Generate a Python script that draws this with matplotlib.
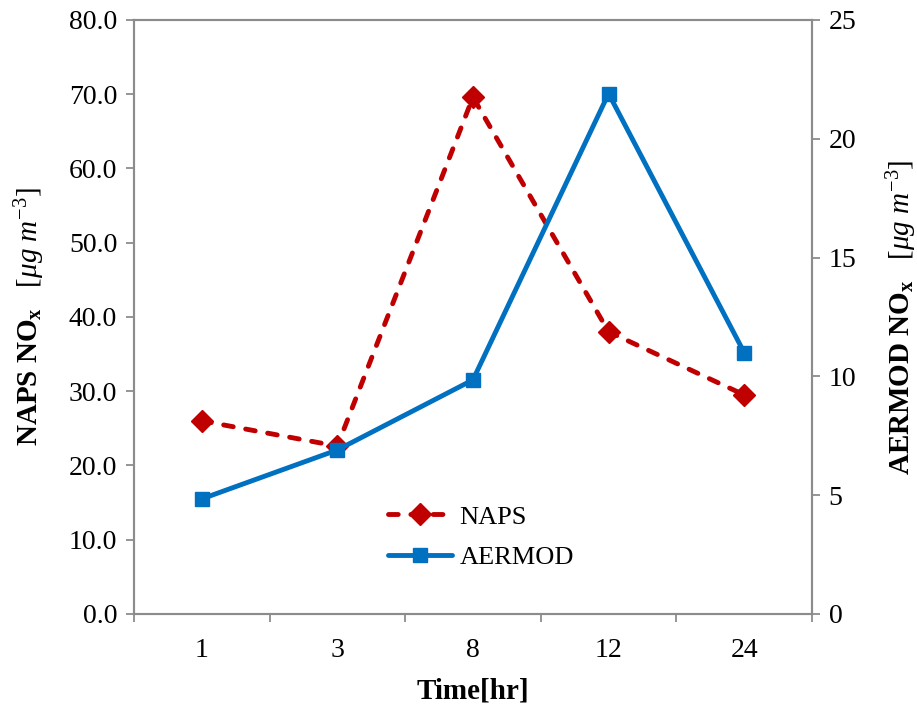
import matplotlib
matplotlib.use("Agg")
import matplotlib.pyplot as plt
from matplotlib.ticker import FixedLocator, NullFormatter, FormatStrFormatter

plt.rcParams["font.family"] = ["Liberation Serif", "DejaVu Serif"]
plt.rcParams["mathtext.fontset"] = "custom"
plt.rcParams["mathtext.rm"] = "Liberation Serif"
plt.rcParams["mathtext.it"] = "Liberation Serif:italic"
plt.rcParams["mathtext.bf"] = "Liberation Serif:bold"

# Sampling times and NOx concentrations
times = ["1", "3", "8", "12", "24"]
naps_nox = [26.0, 22.6, 69.6, 38.0, 29.5]        # µg m-3, left axis
aermod_nox = [4.84, 6.9, 9.85, 21.9, 11.0]       # µg m-3, right axis

left_ticks = [0, 10, 20, 30, 40, 50, 60, 70, 80]
right_ticks = [0, 5, 10, 15, 20, 25]

red = "#C00000"
blue = "#0070C0"
spine_gray = "#8c8c8c"

fig = plt.figure(figsize=(9.17, 7.13), dpi=100)
ax = fig.add_axes([0.146, 0.139, 0.7395, 0.833])
ax2 = ax.twinx()

x = list(range(len(times)))

l1, = ax.plot(x, naps_nox, color=red, lw=3.5, ls=(0, (2.0, 2.6)),
              dash_capstyle="round",
              marker="D", markersize=11, markerfacecolor=red,
              markeredgecolor=red, label="NAPS")
l2, = ax2.plot(x, aermod_nox, color=blue, lw=3.5, ls="-",
               solid_capstyle="round",
               marker="s", markersize=10.5, markerfacecolor=blue,
               markeredgecolor=blue, label="AERMOD")

ax.set_xlim(-0.5, len(times) - 0.5)
ax.set_ylim(0, 80)
ax2.set_ylim(0, 25)

# Category boundaries carry tick marks, labels sit at the category centres
ax.xaxis.set_major_locator(FixedLocator([i - 0.5 for i in range(len(times) + 1)]))
ax.xaxis.set_major_formatter(NullFormatter())
ax.xaxis.set_minor_locator(FixedLocator(x))
ax.set_xticklabels(times, minor=True)
ax.tick_params(axis="x", which="major", direction="out", length=6,
               width=1.3, color=spine_gray)
ax.tick_params(axis="x", which="minor", length=0, pad=17, labelsize=20)

ax.set_yticks(left_ticks)
ax.yaxis.set_major_formatter(FormatStrFormatter("%.1f"))
ax.tick_params(axis="y", direction="out", length=6, width=1.3,
               color=spine_gray, labelsize=20, pad=6)
ax2.set_yticks(right_ticks)
ax2.tick_params(axis="y", direction="out", length=6, width=1.3,
                color=spine_gray, labelsize=20, pad=6)

for a in (ax, ax2):
    for s in a.spines.values():
        s.set_color(spine_gray)
        s.set_linewidth(1.5)

ax.set_xlabel("Time[hr]", fontsize=21, fontweight="bold", labelpad=11)
ax.set_ylabel(r"$\mathbf{NAPS\ NO_x}\ \ \ \mathit{[μg\ m^{-3}]}$", fontsize=21,
              labelpad=16)
ax2.set_ylabel(r"$\mathbf{AERMOD\ NO_x}\ \ \ \mathit{[μg\ m^{-3}]}$", fontsize=21,
               labelpad=20)

leg = ax.legend(handles=[l1, l2], loc="lower left",
                bbox_to_anchor=(0.34, 0.035), frameon=False, fontsize=19,
                handlelength=2.4, labelspacing=0.65, handletextpad=0.3)

fig.savefig("out.png", dpi=100)
